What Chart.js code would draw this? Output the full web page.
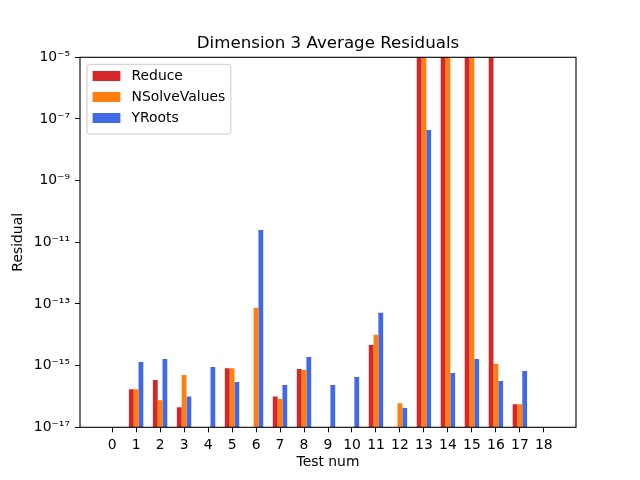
<!DOCTYPE html>
<html>
<head>
<meta charset="utf-8">
<script src="https://cdn.jsdelivr.net/npm/chart.js@4"></script>
<style>
    html, body { margin: 0; padding: 0; background: #fff; }
    #wrap { width: 640px; height: 480px; }
</style>
</head>
<body>
<div id="wrap"><canvas id="residualChart" width="640" height="480"></canvas></div>
<script>
// data (values above 1e-5 run off the top of the plot)
const tests = [0, 1, 2, 3, 4, 5, 6, 7, 8, 9, 10, 11, 12, 13, 14, 15, 16, 17, 18];
const reduceVals = [null, 1.7e-16, 3.4e-16, 4.5e-17, null, 8.3e-16, null, 1.0e-16, 7.8e-16, null, null, 4.7e-15, null, 1e-3, 1e-3, 1e-3, 1e-3, 5.6e-17, null];
const nsolveVals = [null, 1.7e-16, 7.6e-17, 5.0e-16, null, 8.3e-16, 7.6e-14, 8.3e-17, 7.2e-16, null, null, 1.0e-14, 6.0e-17, 1e-3, 1e-3, 1e-3, 1.15e-15, 5.6e-17, null];
const yrootsVals = [null, 1.3e-15, 1.65e-15, 1.0e-16, 9.1e-16, 2.95e-16, 2.5e-11, 2.35e-16, 1.9e-15, 2.35e-16, 4.3e-16, 5.2e-14, 4.2e-17, 4.4e-8, 5.8e-16, 1.65e-15, 3.2e-16, 6.7e-16, null];
const yTicks = [1e-17, 1e-15, 1e-13, 1e-11, 1e-9, 1e-7, 1e-5];

const FONT = "DejaVu Sans";
const sup = { "-": "\u207B", "0": "\u2070", "1": "\u00B9", "2": "\u00B2", "3": "\u00B3", "4": "\u2074",
    "5": "\u2075", "6": "\u2076", "7": "\u2077", "8": "\u2078", "9": "\u2079" };

function toPoints(vals) {
    return tests.map((t, i) => ({ x: t, y: vals[i] }));
}

// center the title over the plot area instead of the whole canvas
const titleOverPlot = {
    id: "titleOverPlot",
    afterLayout(chart) {
        const tb = chart.titleBlock;
        if (!tb) return;
        tb.left = chart.chartArea.left;
        tb.right = chart.chartArea.right;
        tb.width = tb.right - tb.left;
    },
};

// box round the plot, like matplotlib spines
const frame = {
    id: "frame",
    afterDatasetsDraw(chart) {
        const a = chart.chartArea;
        const c = chart.ctx;
        c.save();
        c.strokeStyle = "#000";
        c.lineWidth = 1.1;
        c.strokeRect(a.left, a.top, a.right - a.left, a.bottom - a.top);
        c.restore();
    },
};

// legend drawn inside the plot, upper left
const insideLegend = {
    id: "insideLegend",
    afterDraw(chart) {
        const a = chart.chartArea;
        const c = chart.ctx;
        const fs = 13.9;
        c.save();
        c.font = fs + "px '" + FONT + "'";
        const sets = chart.data.datasets;
        let maxW = 0;
        sets.forEach((d) => { maxW = Math.max(maxW, c.measureText(d.label).width); });
        const left = a.left + 7;
        const top = a.top + 7;
        const patchX = left + 5.6;
        const textX = patchX + 27.8 + 11.1;
        const w = textX + maxW + 5.6 - left;
        const rowH = 21;
        const h = 5.6 + rowH * sets.length + 1.2;
        c.beginPath();
        c.roundRect(left, top, w, h, 2.8);
        c.fillStyle = "rgba(255,255,255,0.8)";
        c.fill();
        c.strokeStyle = "#cccccc";
        c.lineWidth = 1;
        c.stroke();
        sets.forEach((d, i) => {
            const cy = top + 11.7 + i * rowH;
            c.fillStyle = d.backgroundColor;
            c.fillRect(patchX, cy - 5, 27.8, 10);
            c.fillStyle = "#000";
            c.textBaseline = "middle";
            c.textAlign = "left";
            c.fillText(d.label, textX, cy);
        });
        c.restore();
    },
};

new Chart(document.getElementById("residualChart"), {
    type: "bar",
    data: {
        datasets: [
            { label: "Reduce", data: toPoints(reduceVals), backgroundColor: "#d62728" },
            { label: "NSolveValues", data: toPoints(nsolveVals), backgroundColor: "#ff7f0e" },
            { label: "YRoots", data: toPoints(yrootsVals), backgroundColor: "#4169e1" },
        ],
    },
    options: {
        responsive: false,
        animation: false,
        devicePixelRatio: 1,
        categoryPercentage: 0.6,
        barPercentage: 1.0,
        layout: { padding: { left: 0, right: 64, top: 0, bottom: 0 } },
        plugins: {
            legend: { display: false },
            tooltip: { enabled: false },
            title: {
                display: true,
                text: "Dimension 3 Average Residuals",
                color: "#000",
                font: { family: FONT, size: 16.67, weight: "normal" },
                padding: { top: 33.3, bottom: 4 },
            },
        },
        scales: {
            x: {
                type: "linear",
                min: -1.34,
                max: 19.34,
                offset: false,
                afterBuildTicks: (scale) => {
                    scale.ticks = tests.map((t) => ({ value: t }));
                },
                afterFit: (scale) => { scale.height = 52.7; },
                grid: { offset: false, drawOnChartArea: false, drawTicks: true, tickLength: 5, color: "#000", lineWidth: 1 },
                border: { display: false },
                ticks: {
                    color: "#000",
                    padding: 5,
                    maxRotation: 0,
                    autoSkip: false,
                    font: { family: FONT, size: 13.9 },
                    callback: (v) => String(v),
                },
                title: {
                    display: true,
                    text: "Test num",
                    color: "#000",
                    font: { family: FONT, size: 13.9 },
                    padding: { top: 0, bottom: 9.6 },
                },
            },
            y: {
                type: "logarithmic",
                min: 1e-17,
                max: 1e-5,
                afterBuildTicks: (scale) => {
                    scale.ticks = yTicks.map((v) => ({ value: v }));
                },
                afterFit: (scale) => { scale.width = 80; },
                grid: { drawOnChartArea: false, drawTicks: true, tickLength: 5, color: "#000", lineWidth: 1 },
                border: { display: false },
                ticks: {
                    color: "#000",
                    padding: 5,
                    autoSkip: false,
                    font: { family: FONT, size: 13.9 },
                    callback: (v) => {
                        const e = String(Math.round(Math.log10(v)));
                        return "10" + e.split("").map((ch) => sup[ch]).join("");
                    },
                },
                title: {
                    display: true,
                    text: "Residual",
                    color: "#000",
                    font: { family: FONT, size: 13.9 },
                    padding: { top: 9.6, bottom: 0 },
                },
            },
        },
    },
    plugins: [titleOverPlot, frame, insideLegend],
});
</script>
</body>
</html>
